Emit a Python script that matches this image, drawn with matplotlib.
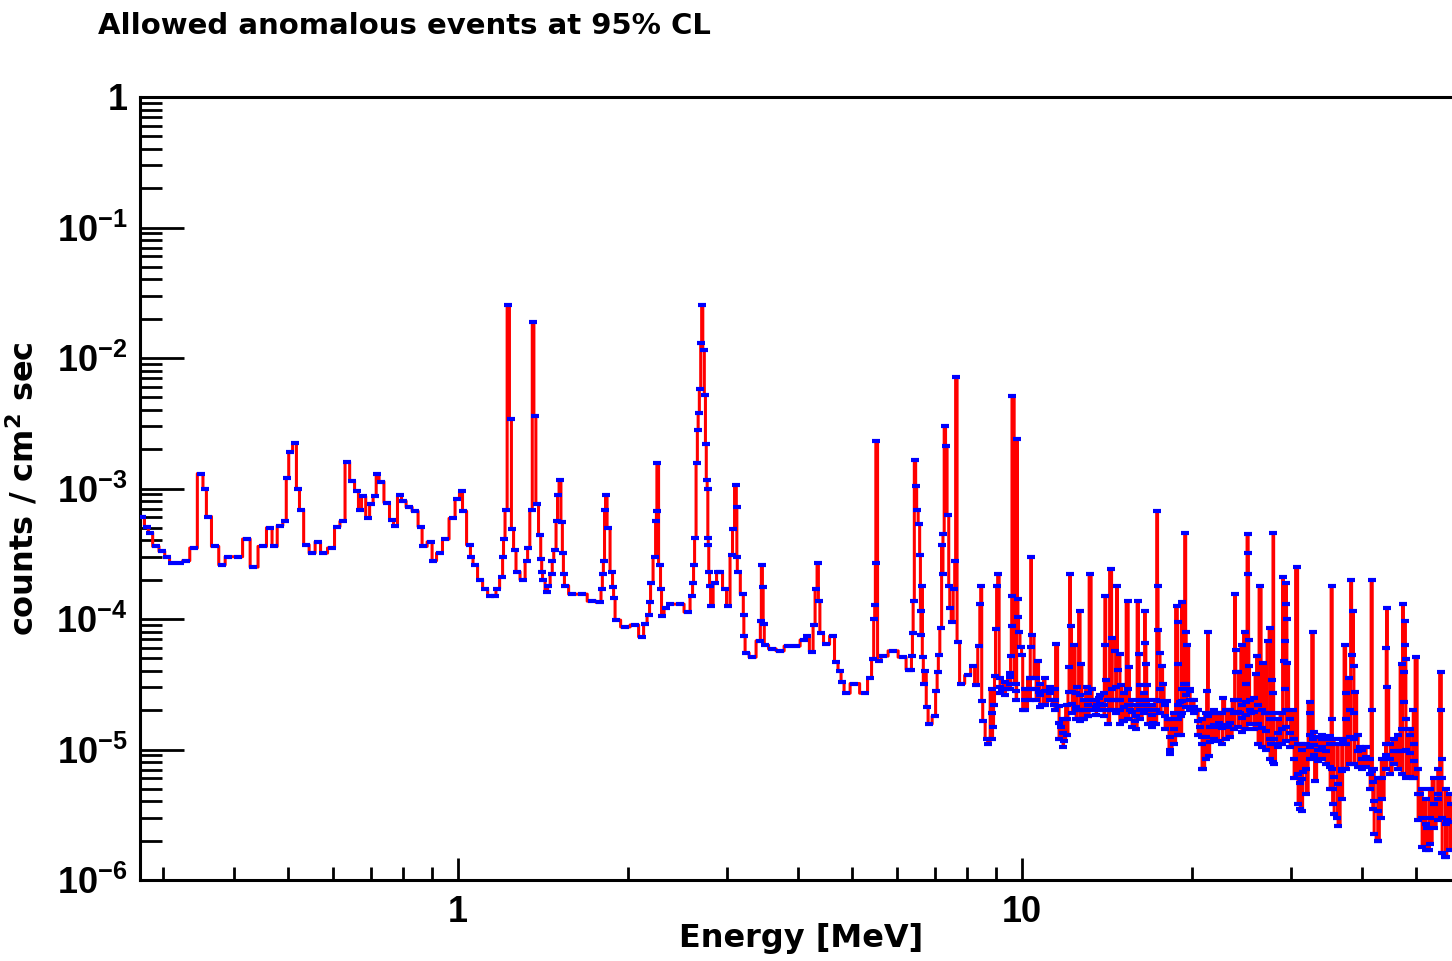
import numpy as np
import matplotlib
matplotlib.use('Agg')
import matplotlib.pyplot as plt
from matplotlib.ticker import FixedLocator, FuncFormatter, LogLocator, NullFormatter

plt.rcParams['font.family'] = ['Liberation Sans', 'DejaVu Sans']
plt.rcParams['font.weight'] = 'bold'
plt.rcParams['mathtext.default'] = 'regular'

# spectrum (energy in MeV, counts / cm^2 sec)
e_low = [0.275, 0.281, 0.284, 0.291, 0.299, 0.305, 0.311, 0.321, 0.329, 0.340,
         0.350, 0.356, 0.360, 0.371, 0.382, 0.391, 0.407, 0.423, 0.433, 0.451,
         0.464, 0.472, 0.484, 0.494, 0.498, 0.504, 0.514, 0.520, 0.527, 0.538,
         0.551, 0.565, 0.576, 0.598, 0.610, 0.625, 0.636, 0.649, 0.662, 0.670,
         0.679, 0.693, 0.701, 0.713, 0.719, 0.730, 0.748, 0.764, 0.773, 0.789,
         0.799, 0.819, 0.839, 0.860, 0.867, 0.896, 0.903, 0.929, 0.948, 0.980,
         0.996, 1.016, 1.021, 1.050, 1.054, 1.072, 1.094, 1.117, 1.140]
c_low = [6.1e-4, 5.1e-4, 4.6e-4, 3.6e-4, 3.3e-4, 3.0e-4, 2.7e-4, 2.7e-4, 2.8e-4, 3.5e-4,
         1.3e-3, 1.0e-3, 6.1e-4, 3.6e-4, 2.6e-4, 3.0e-4, 3.0e-4, 4.1e-4, 2.5e-4, 3.6e-4,
         5.0e-4, 3.6e-4, 5.2e-4, 5.6e-4, 1.2e-3, 1.9e-3, 2.25e-3, 1.0e-3, 6.9e-4, 3.7e-4,
         3.2e-4, 3.9e-4, 3.2e-4, 3.5e-4, 5.1e-4, 5.6e-4, 1.6e-3, 1.15e-3, 9.5e-4, 6.8e-4,
         8.7e-4, 5.9e-4, 7.6e-4, 8.7e-4, 1.3e-3, 1.13e-3, 7.8e-4, 5.7e-4, 5.2e-4, 8.9e-4,
         8.0e-4, 7.2e-4, 6.7e-4, 5.1e-4, 3.6e-4, 3.9e-4, 2.8e-4, 3.2e-4, 4.1e-4, 5.9e-4,
         8.3e-4, 9.5e-4, 6.7e-4, 3.7e-4, 3.0e-4, 2.6e-4, 2.0e-4, 1.7e-4, 1.5e-4]

e_mid = [1.162, 1.173, 1.197, 1.202, 1.206, 1.217, 1.227, 1.240, 1.247, 1.262,
         1.272, 1.304, 1.326, 1.331, 1.350, 1.358, 1.368, 1.380, 1.398, 1.405,
         1.409, 1.415, 1.438, 1.445, 1.468, 1.470, 1.486, 1.498, 1.504, 1.517,
         1.527, 1.535, 1.540, 1.548, 1.593, 1.660, 1.729, 1.785, 1.800, 1.805,
         1.815, 1.822, 1.830, 1.845, 1.875, 1.883, 1.891, 1.906, 1.978, 2.060,
         2.120, 2.146, 2.181, 2.190, 2.199, 2.235, 2.245, 2.250, 2.254, 2.281,
         2.290, 2.300, 2.338, 2.376, 2.475, 2.557, 2.600, 2.610, 2.621, 2.632,
         2.653, 2.660, 2.670, 2.686, 2.700, 2.707, 2.725, 2.741, 2.750, 2.760,
         2.770, 2.775, 2.780, 2.786, 2.798, 2.810, 2.856, 2.890, 2.914, 2.974,
         3.011, 3.060, 3.073, 3.111, 3.118, 3.124, 3.130, 3.201, 3.208, 3.215,
         3.241, 3.321, 3.431, 3.440, 3.459, 3.470, 3.480, 3.502, 3.603]
c_mid = [1.5e-4, 1.7e-4, 2.1e-4, 3.0e-4, 4.1e-4, 6.8e-4, 2.56e-2, 3.4e-3, 4.9e-4, 3.4e-4,
         2.3e-4, 2.0e-4, 2.8e-4, 3.5e-4, 6.8e-4, 1.9e-2, 3.6e-3, 7.6e-4, 4.4e-4, 2.9e-4,
         2.3e-4, 2.0e-4, 1.6e-4, 1.8e-4, 2.2e-4, 2.8e-4, 3.4e-4, 5.6e-4, 8.9e-4, 1.17e-3,
         5.5e-4, 3.2e-4, 2.2e-4, 1.8e-4, 1.55e-4, 1.55e-4, 1.37e-4, 1.34e-4, 1.7e-4, 2.2e-4,
         2.8e-4, 6.8e-4, 8.9e-4, 5.0e-4, 2.3e-4, 1.75e-4, 1.44e-4, 9.8e-5, 8.7e-5, 9.0e-5,
         7.3e-5, 9.1e-5, 1.07e-4, 1.34e-4, 1.9e-4, 3.0e-4, 5.6e-4, 6.7e-4, 1.56e-3, 2.6e-4,
         1.7e-4, 1.05e-4, 1.21e-4, 1.3e-4, 1.3e-4, 1.13e-4, 1.5e-4, 1.9e-4, 2.6e-4, 4.2e-4,
         1.56e-3, 2.8e-3, 3.8e-3, 5.8e-3, 1.3e-2, 2.56e-2, 1.16e-2, 5.2e-3, 2.2e-3, 1.17e-3,
         1.0e-3, 4.2e-4, 3.7e-4, 2.3e-4, 1.8e-4, 1.25e-4, 1.9e-4, 2.3e-4, 2.3e-4, 1.7e-4,
         1.25e-4, 3.1e-4, 4.9e-4, 1.07e-3, 7.2e-4, 3.0e-4, 2.3e-4, 1.55e-4, 1.07e-4, 7.4e-5,
         5.5e-5, 5.1e-5, 6.8e-5, 9.6e-5, 2.6e-4, 1.75e-4, 9.1e-5, 6.3e-5, 5.9e-5]

e_high = [3.724, 3.847, 3.975, 4.107, 4.150, 4.243, 4.278, 4.313, 4.348, 4.360,
          4.401, 4.492, 4.623, 4.677, 4.757, 4.795, 4.875, 5.037, 5.267, 5.376,
          5.443, 5.470, 5.488, 5.500, 5.509, 5.578, 5.669, 5.906, 6.152, 6.304,
          6.350, 6.383, 6.400, 6.420, 6.462, 6.490, 6.515, 6.569, 6.596, 6.610,
          6.622, 6.649, 6.660, 6.704, 6.740, 6.785, 6.842, 7.011, 7.040, 7.099,
          7.110, 7.185, 7.215, 7.230, 7.250, 7.303, 7.330, 7.395, 7.430, 7.457,
          7.519, 7.580, 7.610, 7.638, 7.700, 7.797, 8.025, 8.187, 8.289]
c_high = [5.7e-5, 6.2e-5, 6.2e-5, 6.9e-5, 7.4e-5, 5.6e-5, 9.0e-5, 1.7e-4, 2.7e-4, 1.37e-4,
          7.8e-5, 6.4e-5, 7.4e-5, 4.7e-5, 4.0e-5, 3.3e-5, 2.7e-5, 3.2e-5, 2.7e-5, 3.5e-5,
          4.9e-5, 1.0e-4, 1.27e-4, 2.7e-4, 2.3e-3, 4.8e-5, 5.2e-5, 5.7e-5, 5.1e-5, 4.1e-5,
          4.1e-5, 5.2e-5, 7.8e-5, 1.37e-4, 1.64e-3, 1.05e-3, 6.8e-4, 5.3e-4, 3.1e-4, 1.15e-4,
          7.6e-5, 1.8e-4, 5.1e-5, 3.2e-5, 4.0e-5, 2.1e-5, 1.57e-5, 1.8e-5, 2.8e-5, 3.9e-5,
          5.3e-5, 8.5e-5, 3.7e-4, 2.2e-4, 4.5e-4, 3.0e-3, 2.1e-3, 6.3e-4, 1.8e-4, 1.21e-4,
          9.5e-5, 1.7e-4, 2.8e-4, 7.1e-3, 6.7e-5, 3.2e-5, 3.7e-5, 4.4e-5, 3.1e-5]

e_ten = [8.400, 8.430, 8.461, 8.500, 8.531, 8.670, 8.708, 8.880, 8.921, 8.950,
         8.994, 9.030, 9.071, 9.200, 9.331, 9.523, 9.560, 9.580, 9.590, 9.603,
         9.800, 9.820, 9.843, 9.870, 9.959, 10.00, 10.05, 10.33, 10.35, 10.37,
         10.41, 10.67, 10.72, 10.85, 11.21, 11.40, 11.49, 11.73, 11.87, 12.10,
         12.13, 12.16, 12.20, 12.36, 12.47, 12.52, 12.67, 12.70, 12.83, 13.04,
         13.10, 13.20, 13.58, 13.69, 14.00, 14.04, 14.10, 14.38, 14.45, 14.62,
         14.73, 14.79, 14.91, 14.97, 15.10, 15.42, 15.45, 15.55, 15.86, 16.06,
         16.10, 16.15, 16.52, 16.55, 16.60, 16.66, 16.70, 17.08, 17.37, 17.40,
         17.44]
c_ten = [6.2e-5, 1.3e-4, 1.8e-4, 2.35e-5, 1.65e-5, 1.2e-5, 1.1e-5, 1.5e-5, 2.2e-5, 3.65e-5,
         8.4e-5, 1.8e-4, 2.2e-4, 2.9e-5, 2.9e-5, 3.85e-5, 5.2e-5, 8.8e-5, 1.5e-4, 5.1e-3,
         2.4e-3, 1.42e-4, 1.03e-4, 7.9e-5, 6.1e-5, 5.3e-5, 2.0e-5, 3.5e-5, 6.1e-5, 3.0e-4,
         7.6e-5, 4.8e-5, 2.75e-5, 2.2e-5, 2.8e-5, 2.2e-5, 6.4e-5, 1.5e-5, 1.16e-5, 2.75e-5,
         4.3e-5, 2.2e-4, 8.8e-5, 6.3e-5, 2.0e-5, 3.0e-5, 1.15e-4, 4.5e-5, 1.7e-5, 3.0e-5,
         1.8e-5, 2.2e-4, 2.2e-5, 2.5e-5, 6.3e-5, 1.5e-4, 3.4e-5, 2.4e-4, 7.1e-5, 5.7e-5,
         1.8e-4, 4.1e-5, 5.4e-5, 3.1e-5, 1.65e-5, 1.37e-4, 4.3e-5, 2.0e-5, 1.65e-5, 1.37e-4,
         5.4e-5, 3.1e-5, 1.15e-4, 6.6e-5, 4.5e-5, 3.1e-5, 2.0e-5, 1.6e-5, 6.7e-4, 1.8e-4,
         8.2e-5]

e_top = [17.55, 17.71, 17.78, 18.07, 18.14, 18.29, 18.83, 18.86, 18.90, 19.06,
         19.10, 19.15, 19.22, 19.38, 19.46, 19.54, 19.62, 19.86, 20.27, 20.69,
         20.85, 20.94, 21.28, 21.37, 21.40, 21.46, 21.9, 22.3, 22.72, 23.2,
         23.86, 23.90, 23.95, 24.15, 24.3, 24.55, 24.85, 24.90, 25.15, 25.18,
         25.20, 25.22, 25.25, 25.5, 25.99, 26.10, 26.42, 26.75, 27.0, 27.30,
         27.53, 27.60, 27.75, 27.80, 27.83, 27.87, 28.3, 29.03, 29.10, 29.27,
         29.30, 29.39, 29.42, 29.45, 29.50, 30.24, 30.73, 31.11, 31.15, 31.24,
         31.50, 32.41, 32.45, 32.80, 32.85, 32.90, 33.07, 34.0, 35.17, 35.45,
         35.48, 35.50, 35.52, 35.55, 36.17, 36.93, 37.08, 37.38, 37.54, 38.03,
         38.31, 38.47, 38.63, 38.70, 38.95, 39.75, 41.74, 41.78, 41.80, 41.84,
         41.88, 42.78, 43.2, 44.19, 44.25, 44.37, 44.40, 47.18, 47.37, 47.45,
         47.57, 47.77, 47.80, 47.85, 48.75, 49.35, 49.40, 49.96, 50.79, 52.25,
         52.6, 54.65, 55.34, 55.40, 55.45, 56.28, 56.77, 57.5]
c_top = [5.5e-5, 4.4e-5, 3.2e-5, 2.35e-5, 1.7e-5, 1.0e-5, 1.25e-4, 9.5e-5, 4.5e-5, 2.3e-5,
         1.8e-5, 1.3e-5, 1.34e-4, 3.2e-5, 4.6e-4, 7.9e-5, 6.3e-5, 2.8e-5, 2.0e-5, 1.5e-5,
         1.25e-5, 7.1e-6, 2.8e-5, 7.9e-5, 1.8e-5, 8.9e-6, 1.9e-5, 1.6e-5, 2.5e-5, 1.5e-5,
         1.55e-4, 5.8e-5, 3.9e-5, 3.9e-5, 1.9e-5, 6.3e-5, 7.9e-5, 3.2e-5, 4.5e-4, 3.2e-4,
         2.2e-4, 6.9e-5, 4.4e-5, 1.9e-5, 3.8e-5, 5.2e-5, 1.8e-4, 4.6e-5, 1.9e-5, 6.8e-5,
         8.5e-5, 1.1e-5, 3.4e-5, 2.7e-5, 8.0e-6, 4.6e-4, 1.1e-5, 2.1e-4, 4.8e-5, 6.8e-5,
         2.9e-5, 1.9e-4, 1.3e-4, 1.0e-4, 4.6e-5, 2.0e-5, 2.5e-4, 5.5e-6, 3.5e-6, 1.1e-5,
         6.7e-6, 2.3e-5, 1.9e-5, 7.9e-5, 1.2e-5, 9.1e-6, 5.7e-6, 1.2e-5, 1.27e-5, 1.8e-4,
         1.7e-5, 7.1e-6, 5.0e-6, 3.8e-6, 3.0e-6, 6.8e-6, 1.16e-5, 6.3e-5, 2.7e-5, 3.5e-5,
         2.0e-4, 5.3e-5, 1.15e-4, 4.4e-5, 2.75e-5, 1.05e-5, 2.0e-4, 2.0e-5, 6.8e-6, 5.6e-6,
         3.5e-6, 2.0e-6, 3.0e-6, 9.1e-6, 6.0e-5, 1.21e-4, 3.0e-5, 4.5e-5, 1.3e-4, 2.3e-5,
         3.9e-5, 9.6e-5, 6.3e-5, 4.9e-5, 1.3e-5, 6.0e-6, 2.0e-5, 5.1e-5, 4.6e-6, 2.5e-6,
         1.7e-6, 4.2e-6, 3.9e-5, 2.0e-5, 8.5e-6, 1.5e-6, 2.9e-6, 3.8e-6]

# dense continuum band above ~9 MeV: upper edge, centre and lower edge at each energy
e_band = [8.85, 9.14, 9.33, 9.52, 9.76, 10.12, 10.33, 10.59, 10.76, 10.98,
          11.21, 11.44, 11.63, 11.82, 12.02, 12.27, 12.47, 12.67, 12.88, 13.09,
          13.31, 13.53, 13.75, 13.98, 14.21, 14.44, 14.68, 14.91, 15.17, 15.42,
          15.67, 15.93, 16.19, 16.46, 16.73, 17.00, 17.28, 17.57, 17.93, 18.29,
          18.60, 18.91, 19.22, 19.54, 19.86, 20.18, 20.52, 20.85, 21.20, 21.55,
          21.90, 22.26, 22.63, 23.00, 23.38, 23.77, 24.15, 24.55, 24.96, 25.37,
          25.79, 26.21, 26.64, 27.07, 27.53, 27.98, 28.44, 28.90, 29.39, 29.87,
          30.36, 30.86, 31.36, 31.89, 32.41, 32.94, 33.49, 34.03, 34.59, 35.17,
          35.75, 36.33, 36.93, 37.54, 38.16, 38.79, 39.43, 40.07, 40.73, 41.41,
          42.09, 42.78, 43.48, 44.19, 44.92, 45.66, 46.42, 47.18, 47.96, 48.75,
          49.55, 50.37, 51.20, 52.04, 52.90, 53.77, 54.65, 55.56, 56.47, 57.40]
band_upper = [2.9e-5, 3.5e-5, 3.3e-5, 3.6e-5, 3.2e-5, 2.9e-5, 3.5e-5, 3.5e-5, 3.2e-5, 3.5e-5,
              3.0e-5, 2.9e-5, 2.15e-5, 1.7e-5, 2.2e-5, 2.75e-5, 2.7e-5, 2.6e-5, 2.4e-5, 2.7e-5,
              2.9e-5, 2.4e-5, 2.6e-5, 2.7e-5, 2.4e-5, 2.9e-5, 3.0e-5, 2.4e-5, 2.7e-5, 2.9e-5,
              2.4e-5, 2.2e-5, 2.4e-5, 2.7e-5, 2.4e-5, 2.2e-5, 2.4e-5, 2.9e-5, 2.2e-5, 1.7e-5,
              1.9e-5, 2.2e-5, 2.9e-5, 3.2e-5, 2.9e-5, 2.4e-5, 2.0e-5, 1.7e-5, 1.9e-5, 1.9e-5,
              2.0e-5, 1.9e-5, 1.9e-5, 2.0e-5, 2.0e-5, 2.4e-5, 2.4e-5, 2.2e-5, 2.3e-5, 2.4e-5,
              2.5e-5, 2.2e-5, 2.0e-5, 1.9e-5, 1.7e-5, 1.9e-5, 1.7e-5, 1.9e-5, 2.0e-5, 1.7e-5,
              1.2e-5, 1.1e-5, 1.0e-5, 1.1e-5, 1.3e-5, 1.36e-5, 1.25e-5, 1.3e-5, 1.2e-5, 1.1e-5,
              1.2e-5, 1.1e-5, 1.2e-5, 1.7e-5, 2.0e-5, 1.9e-5, 1.3e-5, 1.0e-5, 1.05e-5, 8.5e-6,
              7.1e-6, 6.0e-6, 8.5e-6, 1.1e-5, 1.1e-5, 1.2e-5, 1.3e-5, 1.43e-5, 1.7e-5, 1.43e-5,
              1.1e-5, 7.1e-6, 5.0e-6, 4.2e-6, 5.0e-6, 6.0e-6, 7.1e-6, 6.0e-6, 5.0e-6, 4.6e-6]
band_centre = [1.9e-5, 3.0e-5, 2.9e-5, 3.2e-5, 2.8e-5, 2.4e-5, 2.9e-5, 2.9e-5, 2.6e-5, 2.8e-5,
               2.7e-5, 2.4e-5, 1.6e-5, 1.33e-5, 1.7e-5, 2.25e-5, 2.1e-5, 2.0e-5, 2.0e-5, 2.2e-5,
               2.4e-5, 2.1e-5, 2.25e-5, 2.2e-5, 2.0e-5, 2.4e-5, 2.4e-5, 2.0e-5, 2.1e-5, 2.2e-5,
               1.95e-5, 1.8e-5, 2.0e-5, 2.2e-5, 2.0e-5, 1.85e-5, 2.0e-5, 2.35e-5, 1.8e-5, 1.25e-5,
               1.43e-5, 1.7e-5, 2.35e-5, 2.6e-5, 2.4e-5, 2.1e-5, 1.65e-5, 1.1e-5, 1.25e-5, 1.5e-5,
               1.53e-5, 1.5e-5, 1.45e-5, 1.53e-5, 1.6e-5, 1.9e-5, 1.95e-5, 1.75e-5, 1.85e-5, 2.0e-5,
               1.95e-5, 1.57e-5, 1.45e-5, 1.38e-5, 1.2e-5, 1.2e-5, 1.33e-5, 1.43e-5, 1.5e-5, 1.33e-5,
               8.5e-6, 6.5e-6, 5.9e-6, 7.1e-6, 1.05e-5, 1.08e-5, 1.0e-5, 1.05e-5, 9.7e-6, 7.4e-6,
               6.2e-6, 5.4e-6, 7.1e-6, 1.1e-5, 1.25e-5, 1.2e-5, 9.7e-6, 8.5e-6, 8.8e-6, 6.5e-6,
               4.0e-6, 3.4e-6, 6.0e-6, 8.8e-6, 8.5e-6, 9.7e-6, 9.7e-6, 9.7e-6, 1.0e-5, 9.4e-6,
               8.2e-6, 4.6e-6, 3.0e-6, 2.7e-6, 3.0e-6, 3.8e-6, 4.6e-6, 3.0e-6, 2.7e-6, 2.8e-6]
band_lower = [1.2e-5, 2.7e-5, 2.6e-5, 2.9e-5, 2.4e-5, 2.0e-5, 2.4e-5, 2.4e-5, 2.1e-5, 2.2e-5,
              2.4e-5, 2.0e-5, 1.2e-5, 1.05e-5, 1.3e-5, 1.9e-5, 1.7e-5, 1.65e-5, 1.7e-5, 1.8e-5,
              2.0e-5, 1.85e-5, 2.0e-5, 1.8e-5, 1.57e-5, 2.0e-5, 1.9e-5, 1.57e-5, 1.65e-5, 1.7e-5,
              1.5e-5, 1.43e-5, 1.7e-5, 1.9e-5, 1.57e-5, 1.5e-5, 1.57e-5, 1.9e-5, 1.43e-5, 9.2e-6,
              1.1e-5, 1.3e-5, 1.9e-5, 2.1e-5, 2.0e-5, 1.9e-5, 1.3e-5, 7.1e-6, 8.5e-6, 1.14e-5,
              1.2e-5, 1.16e-5, 1.1e-5, 1.2e-5, 1.25e-5, 1.43e-5, 1.5e-5, 1.36e-5, 1.43e-5, 1.57e-5,
              1.43e-5, 1.1e-5, 1.05e-5, 1.0e-5, 8.5e-6, 7.7e-6, 1.05e-5, 1.1e-5, 1.16e-5, 1.05e-5,
              6.0e-6, 3.8e-6, 3.4e-6, 4.6e-6, 8.5e-6, 8.8e-6, 8.2e-6, 8.5e-6, 7.7e-6, 5.0e-6,
              3.2e-6, 2.6e-6, 4.2e-6, 7.1e-6, 7.7e-6, 7.7e-6, 7.4e-6, 7.1e-6, 7.4e-6, 5.0e-6,
              2.25e-6, 2.0e-6, 4.2e-6, 7.1e-6, 6.5e-6, 7.7e-6, 7.1e-6, 6.5e-6, 6.0e-6, 6.2e-6,
              6.0e-6, 2.9e-6, 1.8e-6, 1.7e-6, 1.9e-6, 2.5e-6, 2.9e-6, 1.6e-6, 1.5e-6, 1.7e-6]

energy = np.concatenate([e_low, e_mid, e_high, e_ten, e_top, e_band, e_band, e_band])
counts = np.concatenate([c_low, c_mid, c_high, c_ten, c_top,
                         band_upper, band_centre, band_lower])
order = np.argsort(energy, kind='stable')
energy, counts = energy[order], counts[order]

fig = plt.figure(figsize=(14.52, 9.61), dpi=100)
ax = fig.add_axes([140 / 1452, 81 / 961, 1321 / 1452, 783 / 961])
ax.set_xscale('log')
ax.set_yscale('log')

ax.plot(energy, counts, drawstyle='steps-mid', color='#ff0000', lw=2.2, zorder=2)
ax.plot(energy, counts, ls='none', marker='_', ms=6, mew=3, color='#0000ff', zorder=3)

ax.set_xlim(0.273, 60)
ax.set_ylim(1e-6, 1)

for side in ['left', 'bottom', 'top']:
    ax.spines[side].set_linewidth(2.2)
ax.spines['right'].set_visible(False)

# axis ticks, ROOT style (inside)
ax.yaxis.set_major_locator(FixedLocator([1e-6, 1e-5, 1e-4, 1e-3, 1e-2, 1e-1, 1]))
ax.yaxis.set_minor_locator(LogLocator(base=10, subs=range(2, 10), numticks=20))
ax.yaxis.set_minor_formatter(NullFormatter())
ax.yaxis.set_major_formatter(FuncFormatter(
    lambda v, p: '1' if v >= 1 else '10$^{%d}$' % round(np.log10(v))))

ax.xaxis.set_major_locator(FixedLocator([1, 10]))
ax.xaxis.set_minor_locator(LogLocator(base=10, subs=range(2, 10), numticks=20))
ax.xaxis.set_minor_formatter(NullFormatter())
ax.xaxis.set_major_formatter(FuncFormatter(lambda v, p: '%d' % v))

ax.tick_params(axis='y', which='major', direction='in', length=32, width=2, labelsize=26, pad=9)
ax.tick_params(axis='y', which='minor', direction='in', length=16, width=2)
ax.tick_params(axis='x', which='major', direction='in', length=16, width=2, labelsize=26, pad=11)
ax.tick_params(axis='x', which='minor', direction='in', length=9.5, width=2)

ax.set_xlabel('Energy [MeV]', fontsize=23, fontweight='bold', family='DejaVu Sans')
ax.xaxis.set_label_coords((801 - 140) / 1321, -0.055)
ax.set_ylabel('counts / cm$^{2}$ sec', fontsize=23, fontweight='bold', family='DejaVu Sans')
ax.yaxis.set_label_coords(-0.075, 0.5)

fig.text(98 / 1452, 1 - 26 / 961, 'Allowed anomalous events at 95% CL',
         fontsize=21, fontweight='bold', family='DejaVu Sans', ha='left', va='center')

fig.savefig('out.png', dpi=100)
